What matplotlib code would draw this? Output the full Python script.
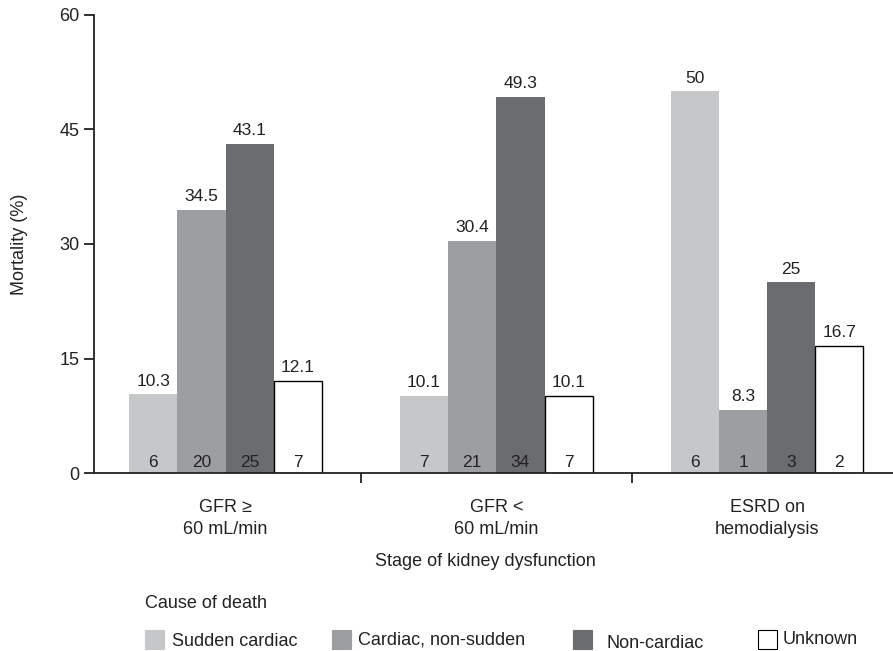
import matplotlib.pyplot as plt
import numpy as np
from matplotlib.patches import Rectangle

plt.rcParams['font.family'] = ['Liberation Sans', 'DejaVu Sans']

groups = ["GFR \u2265\n60 mL/min", "GFR <\n60 mL/min", "ESRD on\nhemodialysis"]
causes = ["Sudden cardiac", "Cardiac, non-sudden", "Non-cardiac", "Unknown"]
mortality = [
    [10.3, 10.1, 50],    # sudden cardiac
    [34.5, 30.4, 8.3],   # cardiac, non-sudden
    [43.1, 49.3, 25],    # non-cardiac
    [12.1, 10.1, 16.7],  # unknown
]
counts = [
    [6, 7, 6],
    [20, 21, 1],
    [25, 34, 3],
    [7, 7, 2],
]
value_labels = [
    ["10.3", "10.1", "50"],
    ["34.5", "30.4", "8.3"],
    ["43.1", "49.3", "25"],
    ["12.1", "10.1", "16.7"],
]
colors = ["#c6c7c9", "#9d9ea2", "#6b6c70", "white"]
txt = "#222222"
fs = 13

fig = plt.figure(figsize=(8.93, 6.51), dpi=100)
ax = fig.add_axes([0.105, 0.2734, 0.895, 0.7036])

x = np.arange(len(groups))
w = 0.178
for i in range(4):
    xs = x + (i - 1.5) * w
    ec = "black" if colors[i] == "white" else colors[i]
    lw = 1.0 if colors[i] == "white" else 0
    bars = ax.bar(xs, mortality[i], width=w, color=colors[i], edgecolor=ec, linewidth=lw, zorder=2)
    for b, v, n, lab in zip(bars, mortality[i], counts[i], value_labels[i]):
        cx = b.get_x() + b.get_width() / 2
        ax.annotate(lab, (cx, v), xytext=(0, 4), textcoords="offset points",
                    ha="center", va="bottom", fontsize=12.5, color=txt)
        ax.annotate(str(n), (cx, 0), xytext=(0, 2), textcoords="offset points",
                    ha="center", va="bottom", fontsize=12.5, color=txt)

ax.set_xlim(-0.487, 2.465)
ax.set_ylim(0, 60)
ax.set_yticks([0, 15, 30, 45, 60])
ax.set_xticks([0.5, 1.5])
ax.set_xticklabels([])
ax.tick_params(axis="both", direction="out", length=7.5, width=1.3, labelsize=fs, colors=txt)
ax.tick_params(axis="y", pad=3)
for s in ["top", "right"]:
    ax.spines[s].set_visible(False)
for s in ["left", "bottom"]:
    ax.spines[s].set_linewidth(1.3)
    ax.spines[s].set_color(txt)

for xi, g in zip(x, groups):
    ax.text(xi, -3.4, g, ha="center", va="top", fontsize=fs, color=txt, linespacing=1.4)

ax.set_ylabel("Mortality (%)", fontsize=fs, color=txt, labelpad=22)
fig.text(485 / 893, 1 - 562 / 651, "Stage of kidney dysfunction",
         ha="center", va="center", fontsize=fs, color=txt)

# legend
fig.text(145 / 893, 1 - 603 / 651, "Cause of death", ha="left", va="center", fontsize=fs, color=txt)
leg_pos = [(145, 172, 641), (332, 358, 640), (573, 607, 644), (758, 783, 640)]
for (sx, tx, ty), c, name in zip(leg_pos, colors, causes):
    ec = "black" if c == "white" else c
    fig.patches.append(Rectangle((sx / 893, 1 - 649 / 651), 19 / 893, 19 / 651, transform=fig.transFigure,
                                 facecolor=c, edgecolor=ec, linewidth=0.8))
    fig.text(tx / 893, 1 - ty / 651, name, ha="left", va="center", fontsize=fs, color=txt)

fig.savefig("out.png", dpi=100)
